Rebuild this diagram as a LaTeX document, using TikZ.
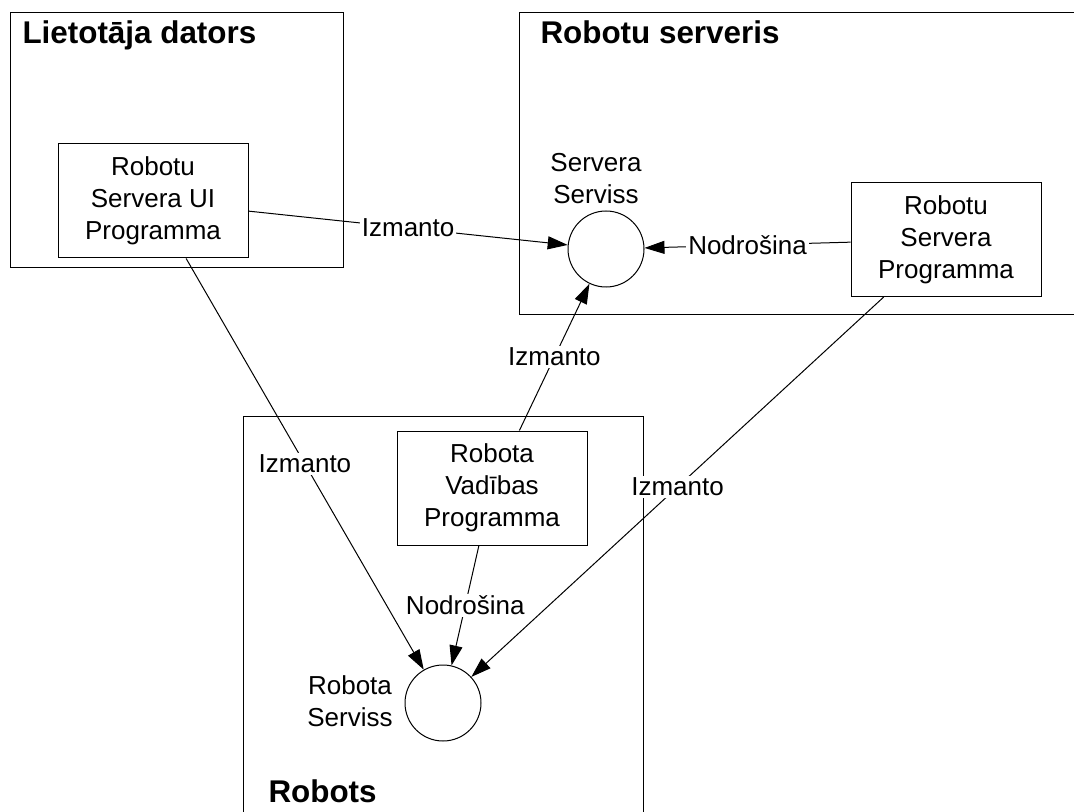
\documentclass[tikz,border=0pt]{standalone}
\usepackage{fontspec}
\setmainfont{Liberation Sans}
\usetikzlibrary{arrows.meta}

\begin{document}
\begin{tikzpicture}[x=0.5pt,y=-0.5pt,line width=0.5pt,
  >={Triangle[length=10pt,width=6.5pt]},
  txt/.style={font=\fontsize{13}{16}\selectfont},
  prog/.style={txt,draw,rectangle,minimum width=95pt,minimum height=57pt,
    align=center,inner sep=0pt},
  svc/.style={draw,circle,minimum size=38pt,inner sep=0pt},
  lbl/.style={txt,fill=white,inner sep=1pt},
  svclbl/.style={txt,align=center,inner sep=0pt},
  ttl/.style={anchor=base west,inner sep=0pt,
    font=\fontsize{15.7}{19}\selectfont\bfseries}]
  \useasboundingbox (0,0) rectangle (1074,812);
  % konteineri
  \draw (10,13) rectangle (343,268);
  \draw (1074,13) -- (519,13) -- (519,314) -- (1074,314);
  \draw (243,812) -- (243,416) -- (643,416) -- (643,812);
  \node[ttl] (ttlpc) at (22,44) {Lietotāja dators};
  \node[ttl] (ttlsrv) at (540,44) {Robotu serveris};
  \node[ttl] (ttlrob) at (268,802) {Robots};
  % programmas
  \node[prog] (uiprog) at (153,201) {Robotu\\Servera UI\\Programma};
  \node[prog] (srvprog) at (946,239.5) {Robotu\\Servera\\Programma};
  \node[prog] (ctrlprog) at (492,488) {Robota\\Vadības\\Programma};
  % servisi
  \node[svc] (srvsvc) at (606,249) {};
  \node[svclbl,anchor=south] (srvsvclbl) at (596,204) {Servera\\Serviss};
  \node[svc] (robsvc) at (443,703) {};
  \node[svclbl,anchor=south] (robsvclbl) at (350,727) {Robota\\Serviss};
  % savienojumi
  \draw[->] (uiprog) -- (srvsvc) node[lbl,midway] {Izmanto};
  \draw[->] (srvprog) -- (srvsvc) node[lbl,midway] {Nodrošina};
  \draw[->] (ctrlprog) -- (srvsvc) node[lbl,midway] {Izmanto};
  \draw[->] (uiprog) -- (robsvc) node[lbl,midway] {Izmanto};
  \draw[->] (srvprog) -- (robsvc) node[lbl,midway] {Izmanto};
  \draw[->] (ctrlprog) -- (robsvc) node[lbl,midway] {Nodrošina};
\end{tikzpicture}
\end{document}
